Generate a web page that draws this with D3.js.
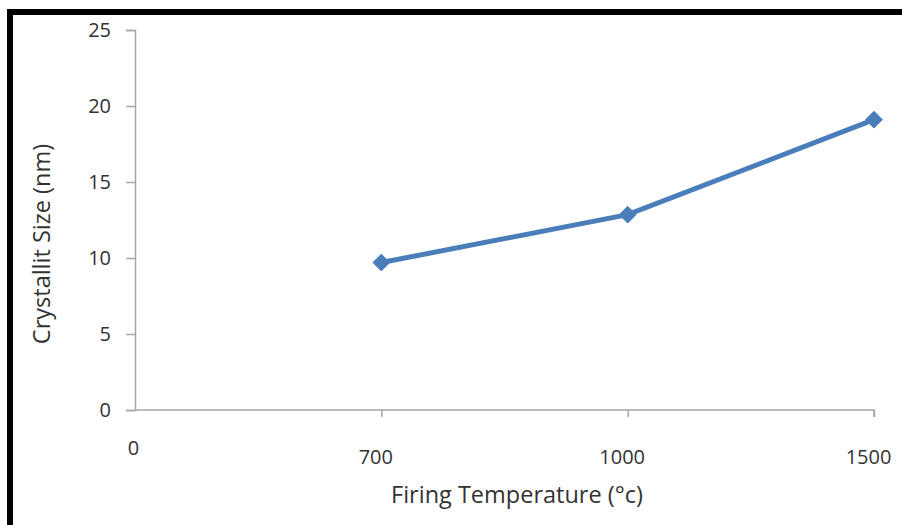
<!DOCTYPE html>
<html>
<head>
<meta charset="utf-8">
<script src="https://cdn.jsdelivr.net/npm/d3@7"></script>
<style>
  html, body { margin: 0; padding: 0; background: #fff; }
  svg { display: block; }
  text { font-family: "Open Sans", sans-serif; fill: #333; }
</style>
</head>
<body>
<div id="chart"></div>
<script>
// firing temperature categories (evenly spaced, like an Excel line chart)
var temps = ["0", "700", "1000", "1500"];
// crystallite size, nm (no value at 0)
var sizes = [null, 9.7, 12.85, 19.1];
var yTicks = [0, 5, 10, 15, 20, 25];

var width = 902, height = 525;

var svg = d3.select("#chart")
    .append("svg")
    .attr("width", width)
    .attr("height", height);

// thick black frame, runs off the right and bottom edges
svg.append("rect")
    .attr("x", 10)
    .attr("y", 12)
    .attr("width", 1000)
    .attr("height", 1000)
    .style("fill", "none")
    .style("stroke", "#000")
    .style("stroke-width", 6);

var x = d3.scalePoint()
    .domain(temps)
    .range([135, 874]);

var y = d3.scaleLinear()
    .domain([0, 25])
    .range([410, 30]);

// y axis
var yAxis = svg.append("g")
    .attr("transform", "translate(135,0)")
    .call(d3.axisLeft(y).tickValues(yTicks).tickSize(9).tickPadding(15));
yAxis.select(".domain").style("stroke", "#a6a6a6").style("stroke-width", 1.5);
yAxis.selectAll(".tick line").style("stroke", "#a6a6a6").style("stroke-width", 1.5);
yAxis.selectAll(".tick text")
    .style("font-family", "'Open Sans', sans-serif")
    .style("font-size", "20px")
    .style("fill", "#333");

// x axis
var xAxis = svg.append("g")
    .attr("transform", "translate(0,410)")
    .call(d3.axisBottom(x).tickSize(7).tickSizeOuter(0));
xAxis.select(".domain").attr("d", "M135,0H874V7").style("stroke", "#a6a6a6").style("stroke-width", 1.5);
xAxis.selectAll(".tick line").style("stroke", "#a6a6a6").style("stroke-width", 1.5);
xAxis.selectAll(".tick text")
    .style("font-family", "'Open Sans', sans-serif")
    .style("font-size", "20px")
    .style("fill", "#333")
    .attr("y", function(d, i) { return i == 0 ? 45 : 54; })
    .attr("dy", 0)
    .attr("dx", function(d, i) { return i == 0 ? -2 : -6; });
xAxis.select(".tick line").remove(); // first tick sits on the y axis

// axis titles
svg.append("text")
    .attr("x", 517)
    .attr("y", 503)
    .attr("text-anchor", "middle")
    .style("font-size", "23.5px")
    .text("Firing Temperature (°c)");

svg.append("text")
    .attr("transform", "translate(50,244) rotate(-90)")
    .attr("text-anchor", "middle")
    .style("font-size", "23.5px")
    .text("Crystallit Size (nm)");

// line + diamond markers
var pts = temps.map(function(t, i) { return { t: t, v: sizes[i] }; })
    .filter(function(d) { return d.v != null; });

svg.append("path")
    .datum(pts)
    .attr("d", d3.line()
        .x(function(d) { return x(d.t); })
        .y(function(d) { return y(d.v); }))
    .style("fill", "none")
    .style("stroke", "#4a7ebb")
    .style("stroke-width", 5);

svg.selectAll(".marker")
    .data(pts)
    .enter().append("path")
    .attr("class", "marker")
    .attr("d", d3.symbol().type(d3.symbolDiamond2).size(180))
    .attr("transform", function(d) { return "translate(" + x(d.t) + "," + y(d.v) + ")"; })
    .style("fill", "#4a7ebb")
    .style("stroke", "#4a7ebb")
    .style("stroke-width", 1);
</script>
</body>
</html>
